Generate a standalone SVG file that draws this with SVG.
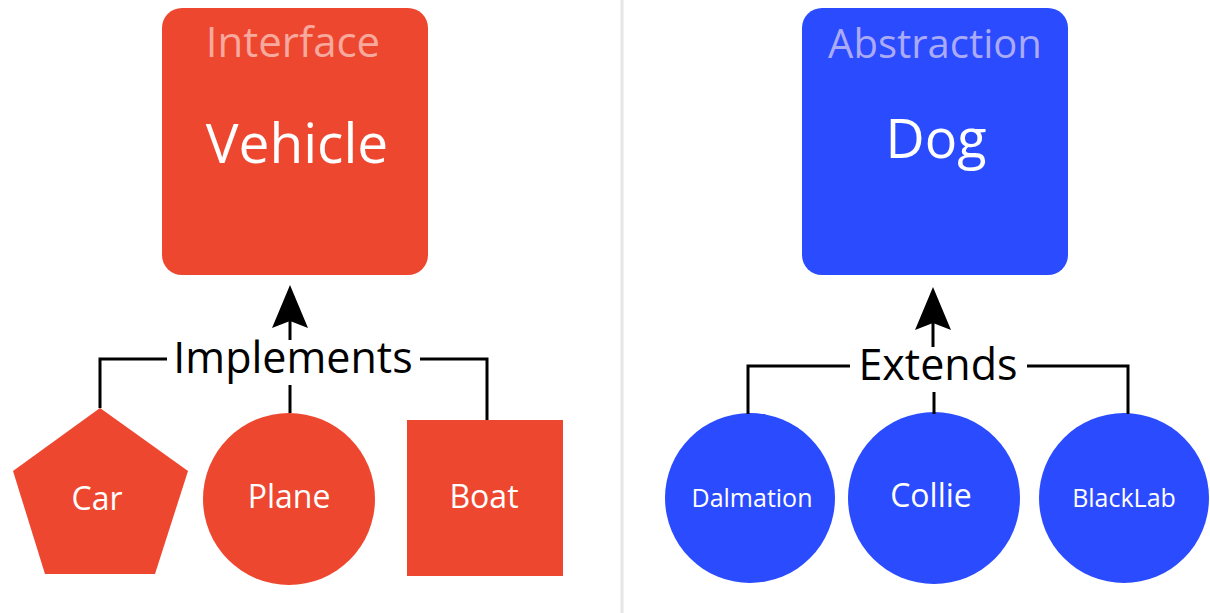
<svg xmlns="http://www.w3.org/2000/svg" width="1210" height="613" viewBox="0 0 1210 613">
<style>
.red{fill:#EE4730}
.blue{fill:#2B4BFF}
.t{font-family:"Open Sans","Noto Sans","DejaVu Sans",sans-serif;text-anchor:middle}
.w{fill:#ffffff}
.lbl{fill:#000000}
.ln{fill:none;stroke:#000;stroke-width:3}
.ah{fill:#000}
</style>
<rect x="0" y="0" width="1210" height="613" fill="#ffffff"/>
<line x1="622" y1="0" x2="622" y2="613" stroke="#e6e6e6" stroke-width="3"/>

<g id="vehicle">
<rect class="red" x="162" y="8" width="266" height="267" rx="20" ry="20"/>
<text class="t" x="293" y="57" font-size="42" fill="#F6A99C">Interface</text>
<text class="t w" x="297" y="163" font-size="55">Vehicle</text>
</g>
<g id="car">
<polygon class="red" points="100,408 188,471 155,574 45,574 13,471"/>
<text class="t w" x="97" y="510" font-size="32">Car</text>
</g>
<g id="plane">
<circle class="red" cx="289" cy="499" r="86"/>
<text class="t w" x="289" y="508" font-size="32">Plane</text>
</g>
<g id="boat">
<rect class="red" x="407" y="420" width="156" height="156"/>
<text class="t w" x="484" y="508" font-size="32">Boat</text>
</g>

<g id="dog">
<rect class="blue" x="802" y="8" width="266" height="267" rx="20" ry="20"/>
<text class="t" x="935" y="58" font-size="40" fill="#AAAAF7">Abstraction</text>
<text class="t w" x="936" y="158" font-size="54">Dog</text>
</g>
<g id="dalmation">
<circle class="blue" cx="750" cy="498" r="85"/>
<text class="t w" x="752" y="507" font-size="25">Dalmation</text>
</g>
<g id="collie">
<circle class="blue" cx="934" cy="498" r="86"/>
<text class="t w" x="931" y="507" font-size="32">Collie</text>
</g>
<g id="blacklab">
<circle class="blue" cx="1124" cy="498" r="85"/>
<text class="t w" x="1124" y="507" font-size="25">BlackLab</text>
</g>

<g id="connectors">
<polyline class="ln" points="100,408 100,359 167,359"/>
<polyline class="ln" points="420,359 487,359 487,420"/>
<line class="ln" x1="290" y1="413" x2="290" y2="385"/>
<line class="ln" x1="290" y1="340" x2="290" y2="318"/>
<polygon class="ah" points="290,285 308,328 290,321 272,328"/>
<text class="t lbl" x="293" y="373" font-size="43">Implements</text>

<polyline class="ln" points="748,414 748,366 850,366"/>
<polyline class="ln" points="1027,366 1128,366 1128,414"/>
<line class="ln" x1="934" y1="414" x2="934" y2="392"/>
<line class="ln" x1="933" y1="347" x2="933" y2="320"/>
<polygon class="ah" points="933,287 951,330 933,323 915,330"/>
<text class="t lbl" x="938" y="380" font-size="43">Extends</text>
</g>
</svg>
